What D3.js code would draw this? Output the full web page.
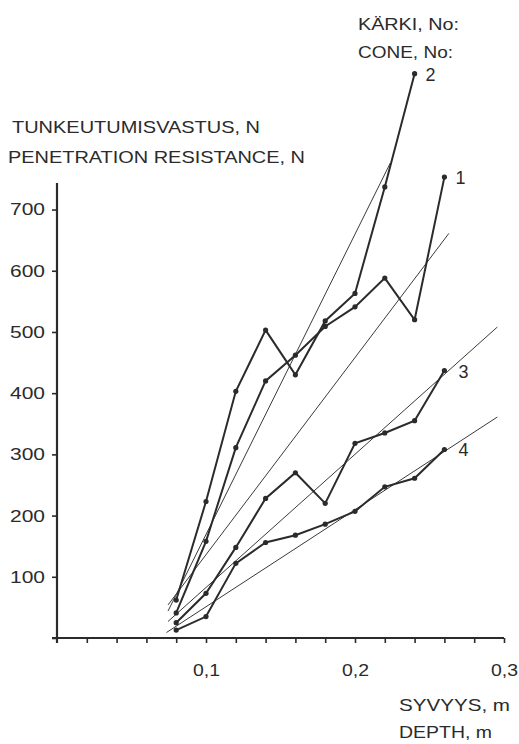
<!DOCTYPE html>
<html>
<head>
<meta charset="utf-8">
<script src="https://cdn.jsdelivr.net/npm/d3@7"></script>
<style>
  body { margin: 0; background: #fff; }
  svg text { font-family: "Liberation Sans", Arial, Helvetica, sans-serif; fill: #2b2b2b; }
</style>
</head>
<body>
<div id="chart"></div>
<script>
// depth of each reading, m
const depths = [0.08, 0.10, 0.12, 0.14, 0.16, 0.18, 0.20, 0.22, 0.24, 0.26]
// penetration resistance per cone, N
const cone1 = [41, 158, 311, 420, 462, 509, 541, 588, 520, 753]
const cone2 = [62, 223, 403, 503, 430, 518, 563, 737, 922]
const cone3 = [25, 73, 148, 228, 270, 220, 318, 335, 355, 437]
const cone4 = [13, 35, 122, 156, 168, 186, 207, 247, 261, 308]
const coneNames = ["1", "2", "3", "4"]

// straight trend lines (start / end), same order as coneNames
const trendDepthStart = [0.0745, 0.0745, 0.0745, 0.0735]
const trendValueStart = [54, 44, 27, 9]
const trendDepthEnd = [0.263, 0.2237, 0.2955, 0.2955]
const trendValueEnd = [661, 776, 508, 361]

const yTicks = [0, 100, 200, 300, 400, 500, 600, 700]
const xMinorTicks = d3.range(1, 16).map(i => +(i * 0.02).toFixed(2))
const xLabelTicks = [0.1, 0.2, 0.3]

var 維 = {
  width: 519,
  height: 744,
  x0: 57, x1: 504,
  y0: 638, y1: 182,
  ink: "#2b2b2b",
}

var svg = d3.select("#chart").append("svg")
  .attr("width", 維.width)
  .attr("height", 維.height)

var xScale = d3.scaleLinear().domain([0, 0.3]).range([維.x0, 維.x1])
var yScale = d3.scaleLinear().domain([0, 745]).range([維.y0, 維.y1])

// the scan is stretched sideways, so glyphs get stretched to the measured widths
function stretched(sel, width) {
  return sel.attr("textLength", width).attr("lengthAdjust", "spacingAndGlyphs")
}

function label(x, y, txt, width, size, anchor) {
  var t = svg.append("text")
    .attr("x", x)
    .attr("y", y)
    .attr("font-size", size)
    .attr("text-anchor", anchor || "start")
    .text(txt)
  return stretched(t, width)
}

// y axis
var gy = svg.append("g")
  .attr("transform", `translate(${維.x0},0)`)
  .call(d3.axisLeft(yScale)
    .tickValues(yTicks)
    .tickSize(5)
    .tickPadding(7)
    .tickSizeOuter(0)
    .tickFormat(d => d === 0 ? "" : d))
gy.select(".domain").remove()
gy.selectAll("line").attr("stroke", 維.ink).attr("stroke-width", 1.6)
gy.selectAll("text")
  .attr("font-size", 17)
  .attr("font-family", null)
  .attr("fill", 維.ink)
  .each(function () { stretched(d3.select(this), 35) })
svg.append("line")
  .attr("x1", 維.x0).attr("x2", 維.x0)
  .attr("y1", 183).attr("y2", 維.y0 + 5)
  .attr("stroke", 維.ink).attr("stroke-width", 2.2)

// x axis
var gx = svg.append("g")
  .attr("transform", `translate(0,${維.y0})`)
  .call(d3.axisBottom(xScale)
    .tickValues(xMinorTicks)
    .tickSize(5)
    .tickSizeOuter(0)
    .tickFormat(d => xLabelTicks.includes(d) ? d3.format(".1f")(d).replace(".", ",") : ""))
gx.select(".domain").remove()
gx.selectAll("line").attr("stroke", 維.ink).attr("stroke-width", 1.6)
gx.selectAll("text")
  .attr("font-size", 17)
  .attr("font-family", null)
  .attr("fill", 維.ink)
  .attr("y", 38)
  .attr("dy", null)
  .each(function (d) { if (xLabelTicks.includes(d)) stretched(d3.select(this), 27) })
svg.append("line")
  .attr("x1", 維.x0 - 5).attr("x2", 維.x1)
  .attr("y1", 維.y0).attr("y2", 維.y0)
  .attr("stroke", 維.ink).attr("stroke-width", 2.2)

// trend lines
coneNames.forEach((n, i) => {
  svg.append("line")
    .attr("class", "trend")
    .attr("x1", xScale(trendDepthStart[i]))
    .attr("y1", yScale(trendValueStart[i]))
    .attr("x2", xScale(trendDepthEnd[i]))
    .attr("y2", yScale(trendValueEnd[i]))
    .attr("stroke", "#3a3a3a")
    .attr("stroke-width", 1)
})

// measured curves
var series = [cone1, cone2, cone3, cone4]
var line = d3.line()
  .x(d => xScale(d[0]))
  .y(d => yScale(d[1]))

series.forEach((vals, i) => {
  var pts = vals.map((v, j) => [depths[j], v])
  svg.append("path")
    .datum(pts)
    .attr("d", line)
    .attr("fill", "none")
    .attr("stroke", 維.ink)
    .attr("stroke-width", 2)
    .attr("stroke-linejoin", "miter")
  svg.selectAll(null)
    .data(pts)
    .enter().append("circle")
    .attr("cx", d => xScale(d[0]))
    .attr("cy", d => yScale(d[1]))
    .attr("r", 2.6)
    .attr("fill", 維.ink)
  var last = pts[pts.length - 1]
  var dx = i < 2 ? 11 : 14
  label(xScale(last[0]) + dx, yScale(last[1]) + 7, coneNames[i], 10, 18)
})

// titles
label(358, 30, "KÄRKI, No:", 101, 17)
label(358, 58, "CONE, No:", 95, 17)
label(12, 133, "TUNKEUTUMISVASTUS, N", 248, 17)
label(8, 163, "PENETRATION RESISTANCE, N", 297, 17)
label(399, 711, "SYVYYS, m", 111, 17)
label(399, 738, "DEPTH, m", 93, 17)
</script>
</body>
</html>
